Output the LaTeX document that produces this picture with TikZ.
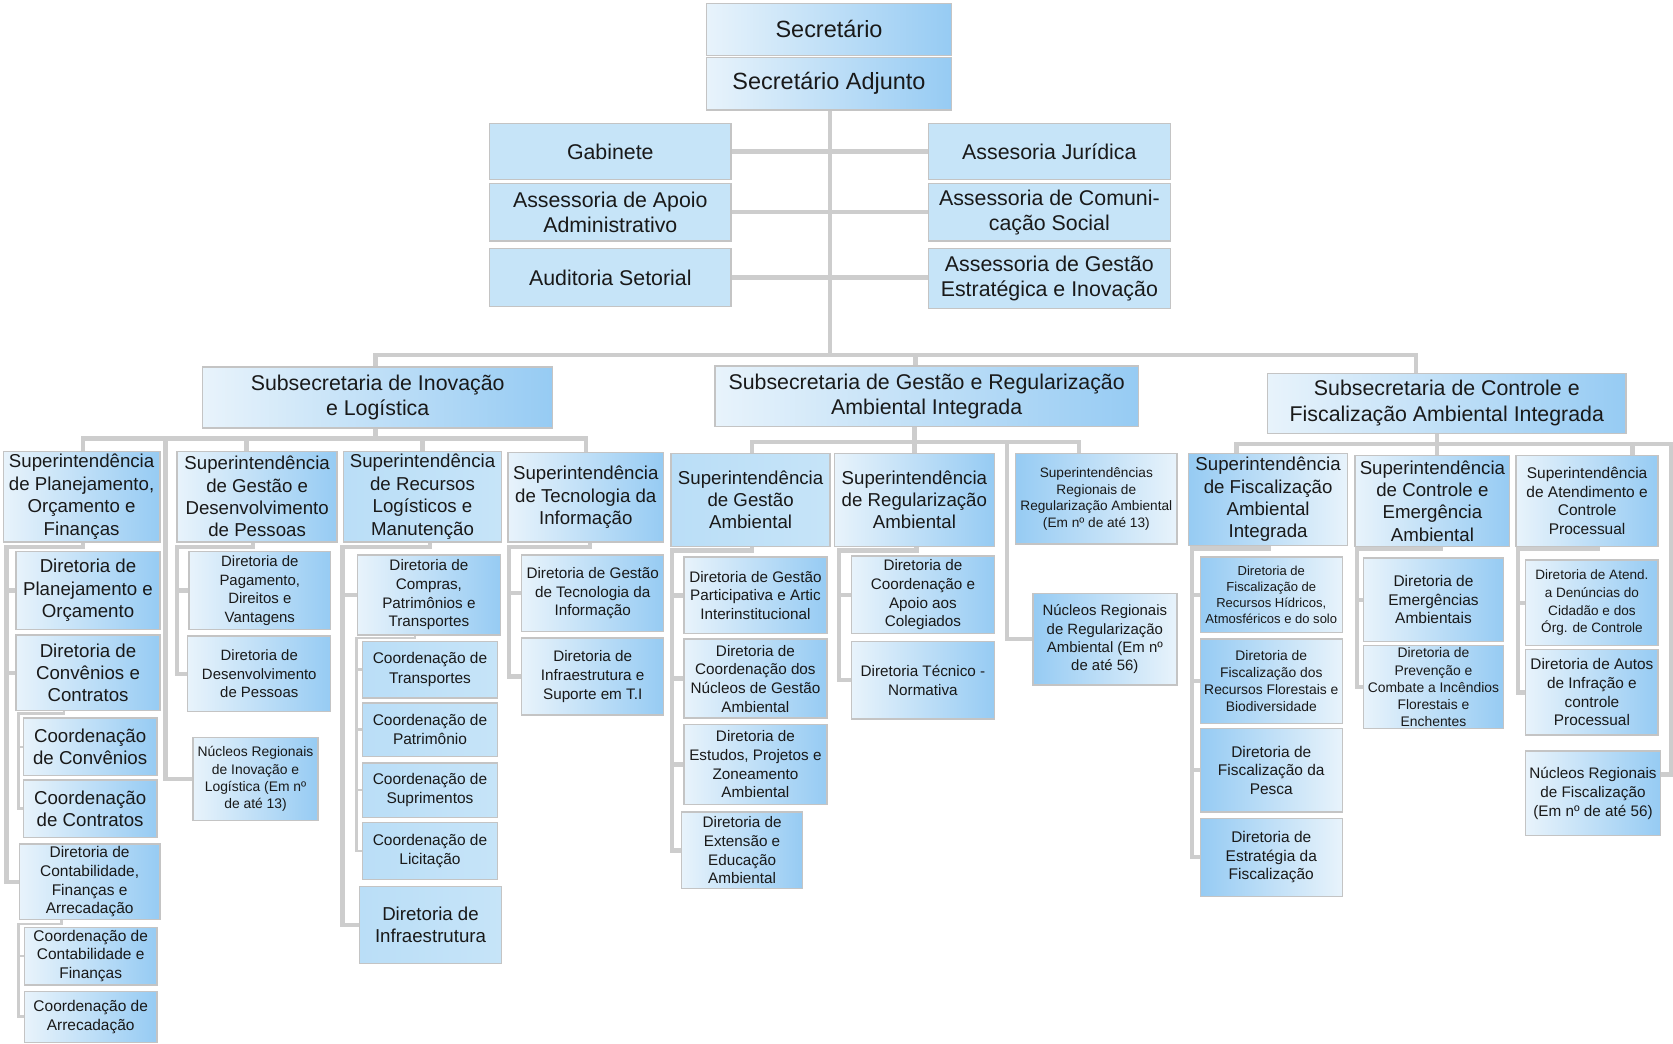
\documentclass[tikz,border=0pt]{standalone}
\usepackage{fontspec}
\setmainfont{Liberation Sans}
\pgfdeclarelayer{background}
\pgfsetlayers{background,main}
\definecolor{cL}{RGB}{232,243,251}
\definecolor{cB}{RGB}{150,203,243}
\definecolor{cF}{RGB}{198,228,248}
\definecolor{cM}{RGB}{186,222,247}
\definecolor{bord}{RGB}{196,196,196}
\definecolor{connc}{RGB}{205,205,205}
\definecolor{txt}{RGB}{25,25,25}
\tikzset{
  bx/.style={draw=bord, line width=1.3pt, inner sep=0pt, align=center, text=txt},
  fw/.style={bx, left color=cL, right color=cB},
  rv/.style={bx, left color=cB, right color=cL},
  fl/.style={bx, fill=cF},
  fm/.style={bx, left color=cM, right color=cF},
  conn/.style={draw=connc, line width=4pt},
  connt/.style={draw=connc, line width=2.6pt},
}
\newcommand\bx[9]{\node[#2,minimum width={(#5-#3)*1pt},minimum height={(#6-#4)*1pt},font={\fontsize{#7}{#8}\selectfont}] (#1) at ({(#3+#5)/2},{(#4+#6)/2}) {#9};}
\begin{document}
\begin{tikzpicture}[x=1pt,y=-1pt]
\useasboundingbox (0,0) rectangle (1568,978);
% top
\bx{sec}{fw}{662}{3}{892}{52}{22}{26}{Secretário}
\bx{adj}{fw}{662}{54}{892}{103}{22}{26}{Secretário Adjunto}
\bx{gab}{fl}{459}{116}{685}{168}{20}{24}{Gabinete}
\bx{apoio}{fl}{459}{172}{685}{226}{20}{24}{Assessoria de Apoio\\Administrativo}
\bx{aud}{fl}{459}{233}{685}{287}{20}{24}{Auditoria Setorial}
\bx{jur}{fl}{870}{116}{1097}{168}{20}{24}{Assesoria Jurídica}
\bx{com}{fl}{870}{172}{1097}{226}{20}{24}{Assessoria de Comuni-\\cação Social}
\bx{est}{fl}{870}{233}{1097}{289}{20}{24}{Assessoria de Gestão\\Estratégica e Inovação}
% subsecretarias
\bx{subInov}{fw}{190}{344}{518}{401}{20}{24}{Subsecretaria de Inovação\\e Logística}
\bx{subGes}{fw}{670}{343}{1067}{400}{20}{24}{Subsecretaria de Gestão e Regularização\\Ambiental Integrada}
\bx{subCon}{fw}{1188}{350}{1524}{406}{20}{24}{Subsecretaria de Controle e\\Fiscalização Ambiental Integrada}
% left superintendencias
\bx{supPlan}{fw}{3}{423}{150}{508}{17.5}{21}{Superintendência\\de Planejamento,\\Orçamento e\\Finanças}
\bx{supPes}{fw}{166}{423}{316}{508}{17.5}{21}{Superintendência\\de Gestão e\\Desenvolvimento\\de Pessoas}
\bx{supRec}{fm}{322}{423}{470}{508}{17.5}{21}{Superintendência\\de Recursos\\Logísticos e\\Manutenção}
\bx{supTI}{fw}{476}{424}{622}{508}{17.5}{21}{Superintendência\\de Tecnologia da\\Informação}
% col 1
\bx{dirPlan}{fw}{15}{517}{150}{590}{17.5}{21}{Diretoria de\\Planejamento e\\Orçamento}
\bx{dirConv}{fw}{15}{595}{150}{666}{17.5}{21}{Diretoria de\\Convênios e\\Contratos}
\bx{coConv}{fw}{22}{673}{147}{727}{17.5}{21}{Coordenação\\de Convênios}
\bx{coContr}{fw}{22}{731}{147}{785}{17.5}{21}{Coordenação\\de Contratos}
\bx{dirContab}{fw}{18}{791}{150}{862}{14.5}{17.5}{Diretoria de\\Contabilidade,\\Finanças e\\Arrecadação}
\bx{coContab}{fw}{23}{869}{147}{923}{14.5}{17.5}{Coordenação de\\Contabilidade e\\Finanças}
\bx{coArrec}{fw}{23}{929}{147}{977}{14.5}{17.5}{Coordenação de\\Arrecadação}
% col 2
\bx{dirPag}{fw}{177}{517}{310}{590}{14}{17.5}{Diretoria de\\Pagamento,\\Direitos e\\Vantagens}
\bx{dirDes}{fw}{176}{596}{310}{667}{14}{17.5}{Diretoria de\\Desenvolvimento\\de Pessoas}
\bx{nucInov}{fw}{181}{691}{298}{769}{13}{16}{Núcleos Regionais\\de Inovação e\\Logística (Em nº\\de até 13)}
% col 3
\bx{dirComp}{fw}{335}{520}{469}{595}{14.3}{17.5}{Diretoria de\\Compras,\\Patrimônios e\\Transportes}
\bx{coTrans}{fm}{340}{601}{466}{654}{14.5}{18}{Coordenação de\\Transportes}
\bx{coPat}{fm}{340}{659}{466}{709}{14.5}{18}{Coordenação de\\Patrimônio}
\bx{coSup}{fm}{340}{715}{466}{766}{14.5}{18}{Coordenação de\\Suprimentos}
\bx{coLic}{fm}{340}{771}{466}{824}{14.5}{18}{Coordenação de\\Licitação}
\bx{dirInfra}{fm}{337}{831}{470}{903}{17.5}{21}{Diretoria de\\Infraestrutura}
% col 4
\bx{dirGTI}{fw}{489}{520}{622}{592}{14.3}{17.5}{Diretoria de Gestão\\de Tecnologia da\\Informação}
\bx{dirInfTI}{fw}{489}{598}{622}{670}{14.3}{17.5}{Diretoria de\\Infraestrutura e\\Suporte em T.I}
% middle
\bx{supGA}{fm}{629}{425}{778}{512}{17.5}{21}{Superintendência\\de Gestão\\Ambiental}
\bx{supReg}{fw}{782}{425}{932}{512}{17.5}{21}{Superintendência\\de Regularização\\Ambiental}
\bx{supRegs}{rv}{952}{425}{1103}{510}{12.8}{15.5}{Superintendências\\Regionais de\\Regularização Ambiental\\(Em nº de até 13)}
\bx{nucReg}{rv}{968}{556}{1103}{642}{14}{17}{Núcleos Regionais\\de Regularização\\Ambiental (Em nº\\de até 56)}
\bx{dirGP}{fw}{641}{522}{775}{594}{14.3}{17.5}{Diretoria de Gestão\\Participativa e Artic\\Interinstitucional}
\bx{dirCN}{fw}{641}{599}{775}{673}{14.3}{17.5}{Diretoria de\\Coordenação dos\\Núcleos de Gestão\\Ambiental}
\bx{dirEst}{fw}{641}{679}{775}{754}{14.3}{17.5}{Diretoria de\\Estudos, Projetos e\\Zoneamento\\Ambiental}
\bx{dirExt}{fw}{639}{761}{752}{833}{14.3}{17.5}{Diretoria de\\Extensão e\\Educação\\Ambiental}
\bx{dirCA}{fw}{798}{521}{932}{594}{14.3}{17.5}{Diretoria de\\Coordenação e\\Apoio aos\\Colegiados}
\bx{dirTN}{fw}{798}{601}{932}{674}{14.3}{17.5}{Diretoria Técnico -\\Normativa}
% right
\bx{supFisc}{rv}{1114}{425}{1263}{511}{17.5}{21}{Superintendência\\de Fiscalização\\Ambiental\\Integrada}
\bx{supCtl}{fw}{1270}{427}{1415}{512}{17.5}{21}{Superintendência\\de Controle e\\Emergência\\Ambiental}
\bx{supAt}{fw}{1421}{427}{1554}{512}{14.5}{17.5}{Superintendência\\de Atendimento e\\Controle\\Processual}
\bx{dirFH}{rv}{1125}{522}{1258}{593}{12.2}{14.8}{Diretoria de\\Fiscalização de\\Recursos Hídricos,\\Atmosféricos e do solo}
\bx{dirFF}{rv}{1125}{599}{1258}{678}{13}{16}{Diretoria de\\Fiscalização dos\\Recursos Florestais e\\Biodiversidade}
\bx{dirFP}{rv}{1125}{683}{1258}{761}{14.5}{17.5}{Diretoria de\\Fiscalização da\\Pesca}
\bx{dirFE}{rv}{1125}{767}{1258}{840}{14.5}{17.5}{Diretoria de\\Estratégia da\\Fiscalização}
\bx{dirEm}{fw}{1278}{523}{1409}{601}{14.5}{17.5}{Diretoria de\\Emergências\\Ambientais}
\bx{dirPr}{fw}{1278}{605}{1409}{683}{13}{16}{Diretoria de\\Prevenção e\\Combate a Incêndios\\Florestais e\\Enchentes}
\bx{dirAD}{fw}{1430}{525}{1554}{605}{12.7}{16.5}{Diretoria de Atend.\\a Denúncias do\\Cidadão e dos\\Órg. de Controle}
\bx{dirAA}{fw}{1430}{609}{1554}{689}{14.4}{17.5}{Diretoria de Autos\\de Infração e\\controle\\Processual}
\bx{nucFisc}{fw}{1430}{704}{1556}{783}{14.3}{17.5}{Núcleos Regionais\\de Fiscalização\\(Em nº de até 56)}
% connectors
\begin{pgfonlayer}{background}
\fill[white] (0,0) rectangle (1568,978);
\coordinate (tB) at (778,333);
\draw[conn] (adj.south -| tB) -- (tB);
\draw[conn] (gab.east) -- (gab.east -| jur.west);
\draw[conn] (apoio.east) -- (apoio.east -| com.west);
\draw[conn] (aud.east) -- (aud.east -| est.west);
\coordinate (bL) at (352,333); \coordinate (bR) at (1327,333); \coordinate (bM) at (858,333);
\draw[conn] (subInov.north -| bL) -- (bL) -- (bR) -- (subCon.north -| bR);
\draw[conn] (bM) -- (subGes.north -| bM);
% left group
\coordinate (iD) at (352,411); \coordinate (iL) at (78,411); \coordinate (iR) at (549,411);
\coordinate (i2) at (231,411); \coordinate (i3) at (396,411); \coordinate (i4) at (155,411);
\draw[conn] (subInov.south -| iD) -- (iD);
\draw[conn] (supPlan.north -| iL) -- (iL) -- (iR) -- (supTI.north -| iR);
\draw[conn] (i2) -- (supPes.north -| i2);
\draw[conn] (i3) -- (supRec.north -| i3);
\draw[conn] (i4) |- (nucInov.west);
% col 1
\coordinate (c1a) at (78,513); \coordinate (c1b) at (6,513);
\draw[conn] (supPlan.south -| c1a) -- (c1a) -- (c1b) |- (dirContab.west);
\draw[conn] (c1b |- dirPlan.west) -- (dirPlan.west);
\draw[conn] (c1b |- dirConv.west) -- (dirConv.west);
\coordinate (c1c) at (60,669); \coordinate (c1d) at (17,669);
\draw[connt] (dirConv.south -| c1c) -- (c1c) -- (c1d) |- (coContr.west);
\draw[connt] (c1d |- coConv.west) -- (coConv.west);
\coordinate (c1e) at (58,866); \coordinate (c1f) at (17,866);
\draw[connt] (dirContab.south -| c1e) -- (c1e) -- (c1f) |- (coArrec.west);
\draw[connt] (c1f |- coContab.west) -- (coContab.west);
% col 2
\coordinate (c2a) at (237,513); \coordinate (c2b) at (166,513);
\draw[conn] (supPes.south -| c2a) -- (c2a) -- (c2b) |- (dirDes.west);
\draw[conn] (c2b |- dirPag.west) -- (dirPag.west);
% col 3
\coordinate (c3a) at (403,513); \coordinate (c3b) at (321,513);
\draw[conn] (supRec.south -| c3a) -- (c3a) -- (c3b) |- (dirInfra.west);
\draw[conn] (c3b |- dirComp.west) -- (dirComp.west);
\coordinate (c3c) at (389,598); \coordinate (c3d) at (334,598);
\draw[connt] (dirComp.south -| c3c) -- (c3c) -- (c3d) |- (coLic.west);
\foreach \n in {coTrans,coPat,coSup}{\draw[connt] (c3d |- \n.west) -- (\n.west);}
% col 4
\coordinate (c4a) at (553,513); \coordinate (c4b) at (477,513);
\draw[conn] (supTI.south -| c4a) -- (c4a) -- (c4b) |- (dirInfTI.west);
\draw[conn] (c4b |- dirGTI.west) -- (dirGTI.west);
% middle group
\coordinate (gD) at (857,414); \coordinate (gL) at (705,414); \coordinate (gR) at (1011,414); \coordinate (gN) at (944,414);
\draw[conn] (subGes.south -| gD) -- (gD);
\draw[conn] (supGA.north -| gL) -- (gL) -- (gR) -- (supRegs.north -| gR);
\draw[conn] (gD) -- (supReg.north -| gD);
\draw[conn] (gN) |- (nucReg.west);
\coordinate (m1a) at (705,516); \coordinate (m1b) at (630,516);
\draw[conn] (supGA.south -| m1a) -- (m1a) -- (m1b) |- (dirExt.west);
\foreach \n in {dirGP,dirCN,dirEst}{\draw[conn] (m1b |- \n.west) -- (\n.west);}
\coordinate (m2a) at (859,516); \coordinate (m2b) at (786,516);
\draw[conn] (supReg.south -| m2a) -- (m2a) -- (m2b) |- (dirTN.west);
\draw[conn] (m2b |- dirCA.west) -- (dirCA.west);
% right group
\coordinate (rD) at (1347,416); \coordinate (rL) at (1159,416); \coordinate (rA) at (1530,416); \coordinate (rR) at (1566,416); \coordinate (rN) at (1566,726);
\draw[conn] (subCon.south -| rD) -- (rD);
\draw[conn] (supFisc.north -| rL) -- (rL) -- (rR) -- (rN) -- (rN -| nucFisc.east);
\draw[conn] (rD) -- (supCtl.north -| rD);
\draw[conn] (rA) -- (supAt.north -| rA);
\coordinate (r1a) at (1189,514); \coordinate (r1b) at (1117,514);
\draw[conn] (supFisc.south -| r1a) -- (r1a) -- (r1b) |- (dirFE.west);
\foreach \n in {dirFH,dirFF,dirFP}{\draw[conn] (r1b |- \n.west) -- (\n.west);}
\coordinate (r2a) at (1350,514); \coordinate (r2b) at (1272,514);
\draw[conn] (supCtl.south -| r2a) -- (r2a) -- (r2b) |- (dirPr.west);
\draw[conn] (r2b |- dirEm.west) -- (dirEm.west);
\coordinate (r3a) at (1498,514); \coordinate (r3b) at (1423,514);
\draw[conn] (supAt.south -| r3a) -- (r3a) -- (r3b) |- (dirAA.west);
\draw[conn] (r3b |- dirAD.west) -- (dirAD.west);
\end{pgfonlayer}
\end{tikzpicture}
\end{document}
